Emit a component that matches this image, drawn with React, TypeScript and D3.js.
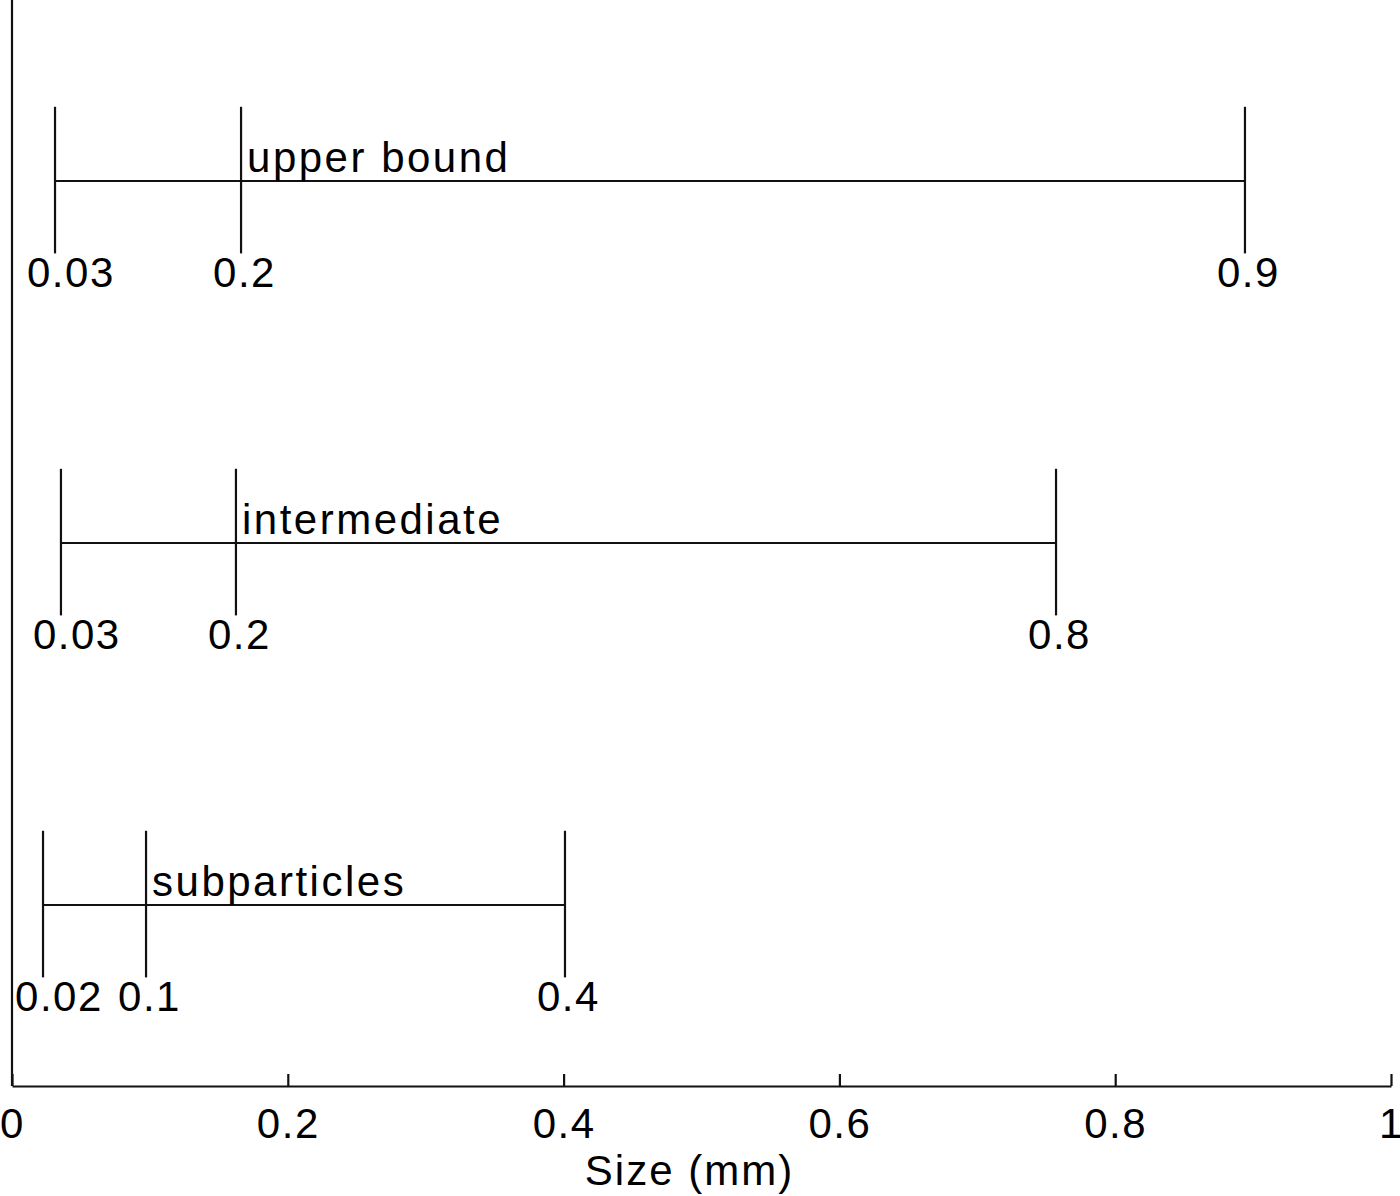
import React, { useEffect, useRef } from "react";
import * as d3 from "d3";

// size ranges, bottom row first
const categories = ["subparticles", "intermediate", "upper bound"];
const minValues = [0.0225, 0.0355, 0.0312];
const midValues = [0.0972, 0.1624, 0.1661];
const maxValues = [0.401, 0.7571, 0.8941];
const minLabels = ["0.02", "0.03", "0.03"];
const midLabels = ["0.1", "0.2", "0.2"];
const maxLabels = ["0.4", "0.8", "0.9"];
const xTicks = [0, 0.2, 0.4, 0.6, 0.8, 1];
const xTickLabels = ["0", "0.2", "0.4", "0.6", "0.8", "1"];
const xTitle = "Size (mm)";

function App() {
  const ref = useRef<SVGSVGElement | null>(null);
  const width = 1400;
  const height = 1196;

  useEffect(() => {
    drawChart();
  }, []);

  function drawChart() {
    const svg = d3.select(ref.current);
    svg.selectAll("*").remove();

    const font = "'Liberation Sans', Arial, Helvetica, sans-serif";
    const fontSize = 42;

    const xScale = d3.scaleLinear().domain([0, 1]).range([12, 1391]);
    const yScale = d3.scaleLinear().domain([0.5, 3.5]).range([1086, 0]);

    const rows = categories.map((name, i) => ({
      name,
      row: i + 1,
      values: [minValues[i], midValues[i], maxValues[i]],
      labels: [minLabels[i], midLabels[i], maxLabels[i]],
    }));

    // left axis line
    svg
      .append("line")
      .attr("x1", xScale(0))
      .attr("x2", xScale(0))
      .attr("y1", yScale(3.5))
      .attr("y2", yScale(0.5))
      .attr("stroke", "#111")
      .attr("stroke-width", 2.2);

    // bottom axis
    const xAxis = svg
      .append("g")
      .attr("transform", `translate(0,${yScale(0.5)})`)
      .call(
        d3
          .axisBottom(xScale)
          .tickValues(xTicks)
          .tickFormat((d, i) => xTickLabels[i])
          .tickSizeInner(-12)
          .tickSizeOuter(0)
          .tickPadding(22)
      );
    xAxis.select(".domain").attr("stroke", "#111").attr("stroke-width", 2.2);
    xAxis.selectAll(".tick line").attr("stroke", "#111").attr("stroke-width", 2.2);
    xAxis
      .selectAll(".tick text")
      .attr("fill", "#000")
      .style("font-family", font)
      .style("font-size", fontSize + "px")
      .style("letter-spacing", "1.5px");

    svg
      .append("text")
      .attr("x", xScale(0.5) - 12)
      .attr("y", 1185)
      .attr("text-anchor", "middle")
      .attr("fill", "#000")
      .style("font-family", font)
      .style("font-size", fontSize + "px")
      .style("letter-spacing", "2px")
      .text(xTitle);

    const g = svg.selectAll(".range").data(rows).enter().append("g").attr("class", "range");

    // horizontal span
    g.append("line")
      .attr("x1", (d) => xScale(d.values[0]))
      .attr("x2", (d) => xScale(d.values[2]))
      .attr("y1", (d) => yScale(d.row))
      .attr("y2", (d) => yScale(d.row))
      .attr("stroke", "#111")
      .attr("stroke-width", 2.2);

    // vertical markers
    g.selectAll(".mark")
      .data((d) => d.values.map((v) => ({ v, row: d.row })))
      .enter()
      .append("line")
      .attr("x1", (d) => xScale(d.v))
      .attr("x2", (d) => xScale(d.v))
      .attr("y1", (d) => yScale(d.row + 0.205))
      .attr("y2", (d) => yScale(d.row - 0.2))
      .attr("stroke", "#111")
      .attr("stroke-width", 2.2);

    // value labels
    g.selectAll(".val")
      .data((d) => d.values.map((v, i) => ({ v, label: d.labels[i], row: d.row })))
      .enter()
      .append("text")
      .attr("x", (d) => xScale(d.v - 0.0203))
      .attr("y", (d) => yScale(d.row - 0.293))
      .attr("fill", "#000")
      .style("font-family", font)
      .style("font-size", fontSize + "px")
      .style("letter-spacing", "1.5px")
      .text((d) => d.label);

    // names
    g.append("text")
      .attr("x", (d) => xScale(d.values[1]) + 6)
      .attr("y", (d) => yScale(d.row + 0.025))
      .attr("fill", "#000")
      .style("font-family", font)
      .style("font-size", fontSize + "px")
      .style("letter-spacing", "2.5px")
      .text((d) => d.name);
  }

  return (
    <svg
      ref={ref}
      width={width}
      height={height}
      style={{ position: "absolute", left: 0, top: 0, background: "#fff" }}
    />
  );
}

export default App;
